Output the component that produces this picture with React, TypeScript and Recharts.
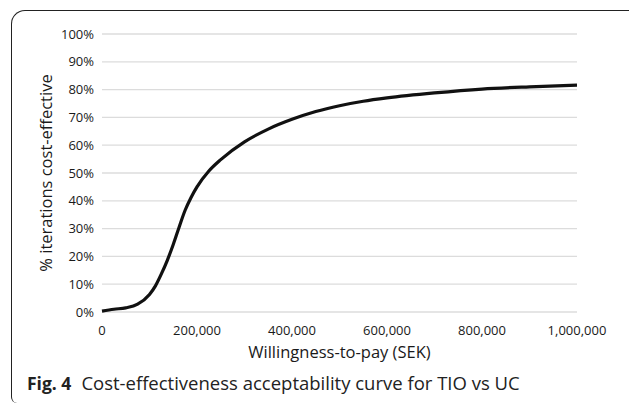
import { CartesianGrid, Line, LineChart, XAxis, YAxis } from "recharts";

const wtp = [
  0, 25000, 50000, 75000, 100000, 112500, 125000, 137500, 150000, 162500, 175000,
  187500, 200000, 225000, 250000, 300000, 350000, 400000, 450000, 500000, 550000,
  600000, 700000, 800000, 900000, 1000000,
];
const pctCostEffective = [
  0.3, 1.0, 1.5, 2.8, 6.3, 9.4, 13.7, 18.6, 24.3, 30.6, 36.6,
  41.2, 45.0, 50.7, 54.8, 61.2, 65.8, 69.3, 72.1, 74.2, 75.8,
  77.0, 78.8, 80.2, 81.0, 81.6,
];
const xTicks = [0, 200000, 400000, 600000, 800000, 1000000];
const yTicks = [0, 10, 20, 30, 40, 50, 60, 70, 80, 90, 100];

const data = wtp.map((x, i) => ({ wtp: x, pct: pctCostEffective[i] }));

const font = "'Open Sans', sans-serif";
const textColor = "#1a1a1a";

function XLabel(props: any) {
  const { x, y, width } = props.viewBox ?? {};
  return (
    <text x={x + width / 2} y={y + 46} textAnchor="middle" fontSize={16.5} fontFamily={font} fill={textColor}>
      Willingness-to-pay (SEK)
    </text>
  );
}

function YLabel(props: any) {
  const { y, height } = props.viewBox ?? {};
  const cx = 52;
  const cy = y + height / 2;
  return (
    <text
      x={cx}
      y={cy}
      transform={`rotate(-90, ${cx}, ${cy})`}
      textAnchor="middle"
      fontSize={16.5}
      fontFamily={font}
      fill={textColor}
    >
      % iterations cost-effective
    </text>
  );
}

export default function App() {
  return (
    <div style={{ position: "absolute", top: 0, left: 0, width: 629, height: 404, background: "#fff", overflow: "hidden", fontFamily: font }}>
      <div
        style={{
          position: "absolute",
          left: 11,
          top: 10,
          width: 630,
          height: 392,
          borderTop: "1.5px solid #222",
          borderLeft: "1.5px solid #222",
          borderTopLeftRadius: 14,
          borderBottomLeftRadius: 6,
        }}
      />
      <div style={{ position: "absolute", top: 0, left: 0 }}>
        <LineChart width={629} height={404} data={data} margin={{ top: 34, right: 52, left: 42, bottom: 62 }}>
          <CartesianGrid vertical={false} stroke="#dcdcdc" strokeWidth={1.3} />
          <XAxis
            dataKey="wtp"
            type="number"
            domain={[0, 1000000]}
            ticks={xTicks}
            tickFormatter={(v: number) => v.toLocaleString("en-US")}
            axisLine={false}
            tickLine={false}
            tickMargin={8}
            height={30}
            tick={{ fontSize: 13, fontFamily: font, fill: textColor }}
            label={<XLabel />}
          />
          <YAxis
            type="number"
            domain={[0, 100]}
            ticks={yTicks}
            tickFormatter={(v: number) => `${v}%`}
            axisLine={false}
            tickLine={false}
            tickMargin={2}
            width={60}
            tick={{ fontSize: 13, fontFamily: font, fill: textColor }}
            label={<YLabel />}
          />
          <Line
            type="monotone"
            dataKey="pct"
            stroke="#111"
            strokeWidth={3.2}
            dot={false}
            isAnimationActive={false}
          />
        </LineChart>
      </div>
      <div
        style={{
          position: "absolute",
          left: 27,
          top: 371,
          fontSize: 18.5,
          color: "#222",
          whiteSpace: "nowrap",
          lineHeight: "24px",
        }}
      >
        <span style={{ fontWeight: 700, fontSize: 17.5 }}>Fig. 4</span>
        <span style={{ marginLeft: 10 }}>Cost-effectiveness acceptability curve for TIO vs UC</span>
      </div>
    </div>
  );
}
